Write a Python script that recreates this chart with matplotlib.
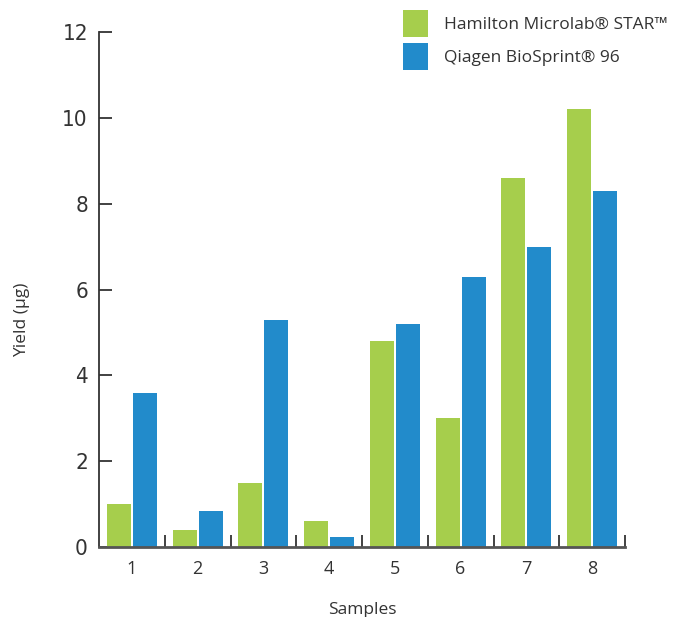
import matplotlib
matplotlib.use("Agg")
import matplotlib.pyplot as plt
import numpy as np
from matplotlib.ticker import FixedLocator

samples = ["1", "2", "3", "4", "5", "6", "7", "8"]
hamilton = [1.0, 0.4, 1.5, 0.6, 4.8, 3.0, 8.6, 10.2]
qiagen = [3.6, 0.85, 5.3, 0.23, 5.2, 6.3, 7.0, 8.3]
yticks = [0, 2, 4, 6, 8, 10, 12]
series_names = ["Hamilton Microlab® STAR™", "Qiagen BioSprint® 96"]

green = "#A6CE4C"
blue = "#228BCB"

fig = plt.figure(figsize=(6.78, 6.17), dpi=100)
ax = fig.add_axes([99/678, 70/617, (625-99)/678, (547-32)/617])

x = np.arange(len(samples))
w = 0.365
off = 0.198
ax.bar(x - off, hamilton, w, color=green, label=series_names[0], zorder=2)
ax.bar(x + off, qiagen, w, color=blue, label=series_names[1], zorder=2)

ax.set_xlim(-0.5, len(samples) - 0.5)
ax.set_ylim(0, 12)

for s in ["top", "right"]:
    ax.spines[s].set_visible(False)
ax.spines["left"].set_color("#333333")
ax.spines["left"].set_linewidth(1.3)
ax.spines["bottom"].set_color("#555555")
ax.spines["bottom"].set_linewidth(2.0)

ax.set_yticks(yticks)
ax.set_yticklabels([str(v) for v in yticks], family="DejaVu Sans", fontstretch="condensed",
                   fontsize=16, color="#333333")
ax.tick_params(axis="y", direction="in", length=9, width=1.3, color="#333333", pad=8)

ax.set_xticks(x)
ax.set_xticklabels(samples, family="Open Sans", fontsize=13, color="#333333")
ax.tick_params(axis="x", which="major", length=0, pad=9)
ax.xaxis.set_minor_locator(FixedLocator(np.arange(0.5, len(samples), 1.0)))
ax.tick_params(axis="x", which="minor", direction="in", length=9, width=1.3, color="#333333")

ax.set_xlabel("Samples", family="Open Sans", fontsize=12.5, color="#333333", labelpad=18)
fig.text(22/678, 1 - 320/617, "Yield (µg)", rotation=90, ha="center", va="center",
         family="Open Sans", fontsize=12.5, color="#333333")

leg = ax.legend(loc="upper left", bbox_to_anchor=(401/678, 1 - 11/617), bbox_transform=fig.transFigure,
                frameon=False, prop={"family": "Open Sans", "size": 12.5},
                handlelength=1.45, handleheight=1.55, handletextpad=0.95, labelspacing=0.64,
                borderaxespad=0, borderpad=0.1)
for t in leg.get_texts():
    t.set_color("#333333")
for p in leg.get_patches():
    y0 = p.get_y()
    h0 = p.get_height()
    p.set_height(19.4)
    p.set_width(18)
    p.set_y(y0 + h0 / 2 - 19.4 / 2)

fig.savefig("out.png", dpi=100)
